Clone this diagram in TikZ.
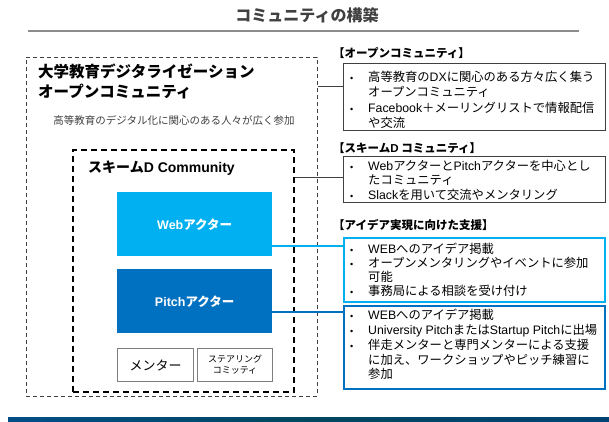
\documentclass[tikz,border=0pt]{standalone}
\usepackage{fontspec}
\setmainfont{Noto Sans CJK JP}
\newfontfamily\ltn{Liberation Sans}
\newcommand\en[1]{{\ltn #1}}
\newcommand\bu{\makebox[19pt][l]{\hspace{1pt}{\ltn\fontsize{9}{9}\selectfont •}}}
\newcommand\ind{\hspace*{19pt}}
\newcommand\topstrut{\rule{0pt}{11pt}}
\definecolor{webc}{HTML}{00B0F0}
\definecolor{pitchc}{HTML}{0070C0}
\definecolor{darkg}{HTML}{404040}
\definecolor{boxg}{HTML}{7F7F7F}
\begin{document}
\begin{tikzpicture}[x=1pt,y=-1pt,
  region/.style={inner sep=0pt, anchor=north west},
  outerbox/.style={region, draw=darkg, line width=0.8pt, dash pattern=on 4pt off 3pt},
  innerbox/.style={region, draw=black, line width=1.6pt, dash pattern=on 6pt off 4pt},
  actor/.style={region, text=white, font=\bfseries\fontsize{12.5}{14}\selectfont, minimum width=155pt, minimum height=64pt},
  smallbox/.style={region, draw=boxg, line width=1pt, minimum height=33pt},
  infobox/.style={region, draw=darkg, line width=1pt, minimum width=262pt},
  infotext/.style={region, align=left, font=\fontsize{12.3}{14.5}\selectfont},
  head/.style={anchor=west, inner sep=0pt, font=\bfseries\fontsize{11.5}{13}\selectfont},
  conn/.style={draw=darkg, line width=0.9pt},
]
\useasboundingbox (0,0) rectangle (609,421);

% title
\node[inner sep=0pt, text=darkg, font=\bfseries\fontsize{16}{18}\selectfont] (title) at (307,15) {コミュニティの構築};
\coordinate (rs) at (28,31);
\coordinate (re) at (579,31);
\draw[draw=gray!90, line width=1.4pt] (rs) -- (re);

% left regions
\node[outerbox, minimum width=291pt, minimum height=339pt] (outer) at (26,57) {};
\node[anchor=north west, inner sep=0pt, align=left, font=\bfseries\fontsize{15.5}{20}\selectfont] (otitle) at (38,64) {大学教育デジタライゼーション\\オープンコミュニティ};
\node[inner sep=0pt, text=darkg, font=\fontsize{10.5}{12}\selectfont] (osub) at (174,120) {高等教育のデジタル化に関心のある人々が広く参加};

\node[innerbox, minimum width=221pt, minimum height=242pt] (inner) at (72,149) {};
\node[anchor=west, inner sep=0pt, font=\bfseries\fontsize{14}{16}\selectfont] (ititle) at (88,168) {スキーム\en{D Community}};

\node[actor, fill=webc] (web) at (117,192) {\en{Web}アクター};
\node[actor, fill=pitchc] (pitch) at (117,269) {\en{Pitch}アクター};
\node[smallbox, minimum width=76pt, font=\fontsize{13}{15}\selectfont] (mentor) at (117,348) {メンター};
\node[smallbox, minimum width=75pt, align=center, font=\fontsize{9}{11}\selectfont] (steer) at (197,348) {ステアリング\\コミッティ};

% right side
\node[head] (h1) at (333,53) {【オープンコミュニティ】};
\node[infobox, minimum height=67pt] (box1) at (343,63) {};
\node[infotext] (t1) at (349,70.5) {\topstrut\bu 高等教育の\en{DX}に関心のある方々広く集う\\\ind オープンコミュニティ\\[2pt]\bu \en{Facebook}＋メーリングリストで情報配信\\\ind や交流};

\node[head] (h2) at (333,148) {【スキーム\en{D} コミュニティ】};
\node[infobox, minimum height=46pt] (box2) at (343,156) {};
\node[infotext, font=\fontsize{12.3}{14}\selectfont] (t2) at (349,159.5) {\topstrut\bu \en{Web}アクターと\en{Pitch}アクターを中心とし\\\ind たコミュニティ\\[1pt]\bu \en{Slack}を用いて交流やメンタリング};

\node[head] (h3) at (333,225) {【アイデア実現に向けた支援】};
\node[infobox, draw=webc, line width=1.5pt, minimum width=261pt, minimum height=64pt] (box3) at (343,237) {};
\node[infotext, font=\fontsize{12.3}{13.8}\selectfont] (t3) at (349,242.5) {\topstrut\bu \en{WEB}へのアイデア掲載\\\bu オープンメンタリングやイベントに参加\\\ind 可能\\\bu 事務局による相談を受け付け};

\node[infobox, draw=pitchc, line width=1.5pt, minimum width=261pt, minimum height=83pt] (box4) at (343,305) {};
\node[infotext, font=\fontsize{12.3}{14.8}\selectfont] (t4) at (349,308.5) {\topstrut\bu \en{WEB}へのアイデア掲載\\\bu \en{University Pitch}または\en{Startup Pitch}に出場\\\bu 伴走メンターと専門メンターによる支援\\\ind に加え、ワークショップやピッチ練習に\\\ind 参加};

% connectors
\coordinate (c1) at (0,86);
\coordinate (c2) at (0,177);
\coordinate (c3) at (0,246);
\coordinate (c4) at (0,312);
\draw[conn] (outer.east |- c1) -- (box1.west |- c1);
\draw[conn] (inner.east |- c2) -- (box2.west |- c2);
\draw[draw=webc, line width=1.2pt] (web.east |- c3) -- (box3.west |- c3);
\draw[draw=pitchc, line width=1.2pt] (pitch.east |- c4) -- (box4.west |- c4);

% bottom band
\node[region, minimum width=601pt, minimum height=4pt, left color=pitchc!70!black, right color=pitchc!60!black, middle color=webc!40!black] (band) at (8,417) {};
\end{tikzpicture}
\end{document}
